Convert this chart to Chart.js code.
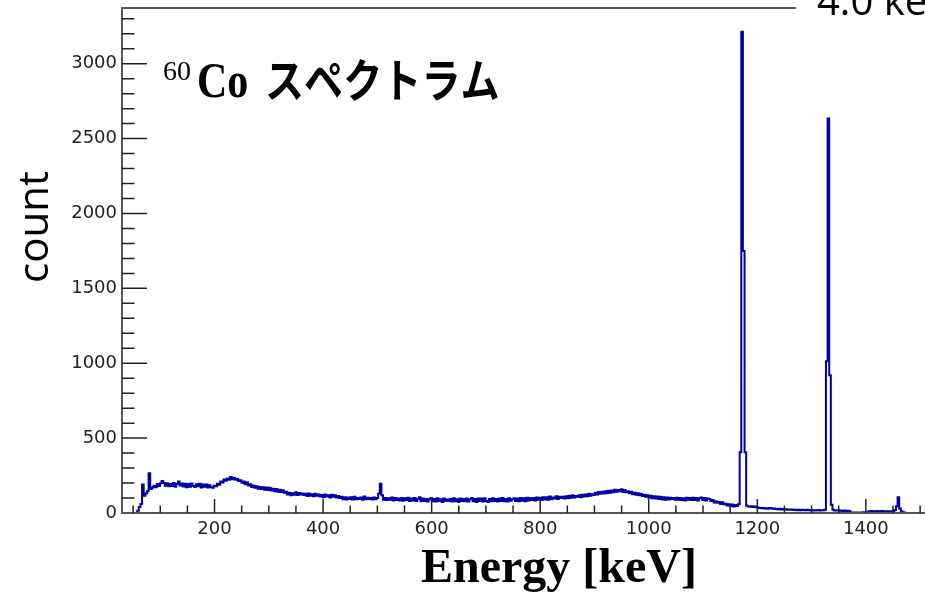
<!DOCTYPE html>
<html>
<head>
<meta charset="utf-8">
<title>60Co spectrum</title>
<script src="https://cdn.jsdelivr.net/npm/chart.js@4.4.1/dist/chart.umd.min.js"></script>
<style>
  html, body { margin: 0; padding: 0; background: #fff; overflow: hidden; }
  canvas { display: block; }
</style>
</head>
<body>
<canvas id="spectrum" width="925" height="593"></canvas>
<script>
// histogram binning (keV)
const binStart = 30.5;
const binWidth = 3;

// counts per bin
const counts = [
  0, 0, 0, 0, 0, 0, 0, 0, 0, 15,                                 // 30.5
  40, 60, 190, 115, 130, 145, 265, 160, 170, 182,                // 60.5
  172, 194, 180, 198, 214, 200, 182, 199, 178, 193,              // 90.5
  181, 201, 176, 194, 210, 183, 197, 177, 195, 172,              // 120.5
  193, 176, 197, 180, 174, 192, 178, 196, 170, 190,              // 150.5
  176, 190, 170, 186, 172, 168, 182, 178, 196, 188,              // 180.5
  210, 204, 224, 216, 230, 222, 240, 226, 236, 222,              // 210.5
  228, 214, 218, 202, 210, 192, 206, 184, 192, 174,              // 240.5
  184, 168, 178, 162, 174, 160, 172, 156, 170, 154,              // 270.5
  168, 150, 162, 146, 160, 142, 156, 140, 152, 136,              // 300.5
  142, 124, 136, 118, 132, 122, 138, 120, 134, 124,              // 330.5
  131, 120, 128, 114, 130, 116, 126, 112, 128, 116,              // 360.5
  123, 110, 120, 106, 124, 110, 118, 104, 122, 108,              // 390.5
  118, 104, 114, 100, 108, 92, 106, 90, 104, 94,                 // 420.5
  106, 90, 108, 92, 100, 94, 104, 88, 110, 92,                   // 450.5
  102, 94, 100, 90, 104, 92, 100, 130, 196, 118,                 // 480.5
  88, 100, 86, 98, 88, 104, 84, 100, 86, 96,                     // 510.5
  84, 100, 82, 98, 86, 102, 80, 96, 84, 100,                     // 540.5
  80, 94, 106, 78, 96, 80, 94, 76, 92, 100,                      // 570.5
  78, 94, 76, 98, 80, 92, 74, 96, 82, 90,                        // 600.5
  80, 94, 76, 98, 78, 92, 74, 96, 80, 94,                        // 630.5
  78, 96, 76, 92, 100, 78, 94, 74, 96, 80,                       // 660.5
  96, 76, 98, 80, 74, 94, 78, 98, 80, 94,                        // 690.5
  76, 96, 80, 100, 78, 94, 76, 98, 82, 92,                       // 720.5
  98, 80, 96, 78, 100, 82, 98, 78, 102, 84,                      // 750.5
  98, 86, 100, 84, 104, 88, 102, 86, 106, 90,                    // 780.5
  106, 88, 110, 92, 104, 96, 112, 94, 108, 100,                  // 810.5
  108, 96, 112, 98, 116, 102, 118, 104, 114, 108,                // 840.5
  118, 106, 122, 110, 124, 112, 128, 116, 126, 120,              // 870.5
  136, 124, 140, 128, 142, 130, 146, 132, 148, 136,              // 900.5
  150, 138, 156, 142, 154, 146, 158, 140, 154, 138,              // 930.5
  146, 132, 142, 126, 136, 122, 132, 118, 128, 114,              // 960.5
  122, 108, 118, 102, 116, 98, 112, 96, 110, 94,                 // 990.5
  108, 90, 106, 88, 104, 90, 102, 94, 100, 88,                   // 1020.5
  102, 88, 100, 86, 98, 84, 102, 88, 100, 86,                    // 1050.5
  102, 86, 100, 84, 98, 104, 86, 100, 84, 96,                    // 1080.5
  94, 80, 86, 70, 78, 68, 74, 60, 72, 58,                        // 1110.5
  62, 50, 58, 46, 56, 44, 54, 46, 58, 406,                       // 1140.5
  3214, 1750, 406, 48, 44, 42, 45, 40, 43, 38,                   // 1170.5
  35, 33, 31, 34, 30, 32, 29, 33, 31, 28,                        // 1200.5
  30, 27, 25, 28, 24, 26, 23, 25, 22, 24,                        // 1230.5
  21, 23, 20, 22, 19, 21, 18, 22, 20, 19,                        // 1260.5
  21, 18, 20, 17, 19, 16, 18, 20, 17, 19,                        // 1290.5
  18, 22, 1013, 2635, 919, 55, 22, 17, 16, 18,                   // 1320.5
  15, 17, 14, 16, 3, 15, 13, 2, 4, 3,                            // 1350.5
  2, 4, 1, 3, 2, 5, 3, 2, 12, 4,                                 // 1380.5
  13, 3, 12, 14, 2, 11, 13, 3, 12, 10,                           // 1410.5
  12, 3, 11, 13, 20, 45, 106, 30, 12, 5,                         // 1440.5
  2, 0, 0                                                        // 1470.5
];

const xRange = [29.5, 1509];
const yRange = [0, 3372];
const xTickLabels = [200, 400, 600, 800, 1000, 1200, 1400];
const yTickLabels = [0, 500, 1000, 1500, 2000, 2500, 3000];
const xMinorStep = 50;
const yMinorStep = 100;

const points = counts.map((c, i) => ({ x: binStart + i * binWidth, y: c }));
points.push({ x: binStart + counts.length * binWidth, y: 0 });

function drawText(ctx, text, x, y, font, sx) {
  ctx.save();
  ctx.font = font;
  ctx.fillStyle = '#000';
  ctx.textBaseline = 'alphabetic';
  ctx.textAlign = 'left';
  ctx.translate(x, y);
  ctx.scale(sx || 1, 1);
  ctx.fillText(text, 0, 0);
  ctx.restore();
}

// ROOT-like frame, inward ticks and the labels
const rootFrame = {
  id: 'rootFrame',
  afterDatasetsDraw(chart) {
    const { ctx, chartArea: a, scales: { x, y } } = chart;
    const boxLeft = 796;
    ctx.save();
    ctx.fillStyle = '#fff';
    ctx.fillRect(boxLeft, 0, chart.width - boxLeft, 24);

    ctx.strokeStyle = '#555';
    ctx.lineWidth = 2;
    ctx.beginPath();
    ctx.moveTo(boxLeft, a.top);
    ctx.lineTo(a.left, a.top);
    ctx.lineTo(a.left, a.bottom);
    ctx.lineTo(a.right, a.bottom);
    ctx.stroke();

    ctx.strokeStyle = '#222';
    ctx.lineWidth = 1.5;
    ctx.beginPath();
    for (let v = yRange[0] + yMinorStep; v <= yRange[1]; v += yMinorStep) {
      const py = y.getPixelForValue(v);
      const len = yTickLabels.includes(v) ? 25 : 12.5;
      ctx.moveTo(a.left, py);
      ctx.lineTo(a.left + len, py);
    }
    for (let v = Math.ceil(xRange[0] / xMinorStep) * xMinorStep; v <= xRange[1]; v += xMinorStep) {
      const px = x.getPixelForValue(v);
      const len = xTickLabels.includes(v) ? 14 : 7.5;
      ctx.moveTo(px, a.bottom);
      ctx.lineTo(px, a.bottom - len);
    }
    ctx.stroke();
    ctx.restore();
  },
  afterDraw(chart) {
    const ctx = chart.ctx;
    drawText(ctx, '60', 163, 80, '28px "Liberation Serif"');
    drawText(ctx, 'Co', 197, 97, 'bold 50px "Liberation Serif"', 0.84);
    drawText(ctx, 'スペクトラム', 265, 97, 'bold 46px "Noto Sans CJK JP"', 0.85);
    drawText(ctx, '4.0 keV', 817, 15, '40px "Open Sans"');
    drawText(ctx, 'Energy [keV]', 421, 582, 'bold 48px "Liberation Serif"');

    ctx.save();
    ctx.font = '42px "Open Sans"';
    ctx.fillStyle = '#000';
    ctx.textAlign = 'center';
    ctx.textBaseline = 'alphabetic';
    ctx.translate(48, 227);
    ctx.rotate(-Math.PI / 2);
    ctx.fillText('count', 0, 0);
    ctx.restore();
  }
};

const tickFont = { family: 'DejaVu Sans', size: 18 };
const plainLabel = v => String(v);

new Chart(document.getElementById('spectrum'), {
  type: 'line',
  data: {
    datasets: [{
      data: points,
      stepped: true,
      borderColor: '#0000a6',
      borderWidth: 2,
      pointRadius: 0,
      fill: false
    }]
  },
  options: {
    responsive: false,
    devicePixelRatio: 1,
    animation: false,
    layout: { padding: { top: 8, right: 0, left: 0, bottom: 0 } },
    plugins: { legend: { display: false }, tooltip: { enabled: false } },
    scales: {
      x: {
        type: 'linear',
        min: xRange[0],
        max: xRange[1],
        afterFit(s) { s.height = 80; s.paddingLeft = 0; s.paddingRight = 0; },
        afterBuildTicks(s) { s.ticks = xTickLabels.map(v => ({ value: v })); },
        grid: { display: false, drawTicks: false },
        border: { display: false },
        ticks: { padding: 6, color: '#222', maxRotation: 0, font: tickFont, callback: plainLabel }
      },
      y: {
        type: 'linear',
        min: yRange[0],
        max: yRange[1],
        afterFit(s) { s.width = 122; s.paddingTop = 0; s.paddingBottom = 0; },
        afterBuildTicks(s) { s.ticks = yTickLabels.map(v => ({ value: v })); },
        grid: { display: false, drawTicks: false },
        border: { display: false },
        ticks: { padding: 5, color: '#222', font: tickFont, callback: plainLabel }
      }
    }
  },
  plugins: [rootFrame]
});
</script>
</body>
</html>
